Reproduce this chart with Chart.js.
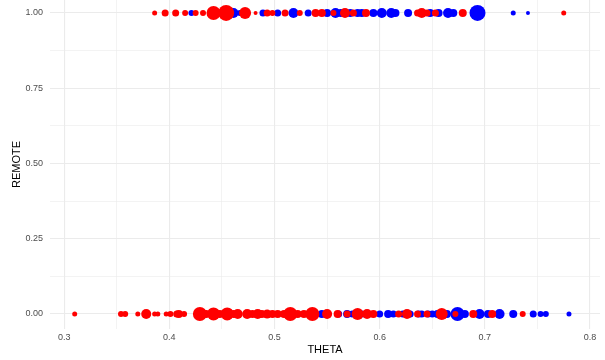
<!DOCTYPE html>
<html>
<head>
<meta charset="utf-8">
<script src="https://cdn.jsdelivr.net/npm/chart.js@4"></script>
<style>
  html, body { margin: 0; padding: 0; background: #fff; }
  #wrap { width: 605px; height: 360px; }
</style>
</head>
<body>
<div id="wrap"><canvas id="chart"></canvas></div>
<script>
// REMOTE = 1 row
const redTopTheta = [0.386, 0.396, 0.406, 0.415, 0.425, 0.432, 0.442, 0.454, 0.472, 0.482, 0.493, 0.498, 0.510, 0.524, 0.539, 0.545, 0.556, 0.567, 0.575, 0.587, 0.636, 0.640, 0.645, 0.653, 0.679, 0.775]
const redTopSize  = [2.5, 3.5, 3.5, 3, 3, 3, 7, 8, 6, 2, 3.5, 3, 3.5, 3, 4, 4, 3, 5, 3.5, 4, 3.5, 5, 3.5, 3.5, 4, 2.5]
const blueTopTheta = [0.421, 0.461, 0.467, 0.489, 0.503, 0.518, 0.532, 0.550, 0.558, 0.563, 0.572, 0.579, 0.583, 0.594, 0.602, 0.611, 0.615, 0.627, 0.648, 0.656, 0.665, 0.670, 0.693, 0.727, 0.741]
const blueTopSize  = [3, 5, 3, 3.5, 3.5, 5, 3.5, 4, 5, 4, 4, 4, 4, 4, 5, 5, 4, 4, 4, 4, 5, 4, 8, 2.5, 2]

// REMOTE = 0 row
const redBottomTheta = [0.310, 0.354, 0.358, 0.370, 0.378, 0.386, 0.389, 0.397, 0.401, 0.407, 0.409, 0.414, 0.429, 0.435, 0.442, 0.448, 0.455, 0.461, 0.465, 0.474, 0.479, 0.484, 0.488, 0.493, 0.498, 0.503, 0.509, 0.515, 0.522, 0.528, 0.536, 0.550, 0.560, 0.569, 0.579, 0.588, 0.594, 0.618, 0.626, 0.636, 0.645, 0.659, 0.672, 0.689, 0.707, 0.736]
const redBottomSize  = [2.5, 3, 3, 2.5, 5, 2.5, 2.5, 2.5, 3, 3.5, 4, 3, 7, 4, 6.5, 4, 6.5, 4, 5, 5, 4, 5, 4, 4.5, 4, 4, 4, 7, 4, 4, 7, 5, 4, 3.5, 6, 5, 4, 3.5, 5, 3.5, 3.5, 6, 3, 4, 4, 3]
const blueBottomTheta = [0.545, 0.561, 0.569, 0.574, 0.583, 0.600, 0.608, 0.613, 0.622, 0.629, 0.637, 0.640, 0.646, 0.650, 0.655, 0.664, 0.674, 0.681, 0.695, 0.703, 0.714, 0.727, 0.746, 0.753, 0.758, 0.780]
const blueBottomSize  = [4, 3.5, 4, 3.5, 3.5, 3.5, 4, 3.5, 3.5, 3.5, 3.5, 3.5, 3.5, 3.5, 4, 4, 7, 4, 5, 4, 5, 4, 3.5, 3, 3, 2.5]

const xTicks = [0.3, 0.4, 0.5, 0.6, 0.7, 0.8]
const yTicks = [0, 0.25, 0.5, 0.75, 1]

function points(thetas, sizes, remote) {
    return thetas.map((t, i) => ({ x: t, y: remote, r: sizes[i] }))
}

const redData = points(redTopTheta, redTopSize, 1).concat(points(redBottomTheta, redBottomSize, 0))
const blueData = points(blueTopTheta, blueTopSize, 1).concat(points(blueBottomTheta, blueBottomSize, 0))

const isMajor = (v, list) => list.some(t => Math.abs(t - v) < 1e-6)

const ctx = document.getElementById('chart')
new Chart(ctx, {
    type: 'bubble',
    data: {
        datasets: [
            { label: 'red', data: redData, backgroundColor: '#ff0000', borderWidth: 0, hoverRadius: 0, clip: false },
            { label: 'blue', data: blueData, backgroundColor: '#0000ff', borderWidth: 0, hoverRadius: 0, clip: false }
        ]
    },
    options: {
        responsive: true,
        maintainAspectRatio: false,
        animation: false,
        layout: { autoPadding: false, padding: { left: 10, right: 5, top: 0, bottom: 0 } },
        plugins: {
            legend: { display: false },
            tooltip: { enabled: false }
        },
        scales: {
            x: {
                type: 'linear',
                min: 0.2865,
                max: 0.8095,
                border: { display: false },
                grid: {
                    color: '#ebebeb',
                    lineWidth: c => isMajor(c.tick.value, xTicks) ? 1.1 : 0.6,
                    drawTicks: false
                },
                ticks: {
                    stepSize: 0.05,
                    includeBounds: false,
                    autoSkip: false,
                    maxRotation: 0,
                    padding: 3,
                    color: '#4d4d4d',
                    font: { family: 'Liberation Sans', size: 9 },
                    callback: v => isMajor(v, xTicks) ? (Math.round(v * 10) / 10).toString() : ''
                },
                title: {
                    display: true,
                    text: 'THETA',
                    color: '#000',
                    padding: { top: 1, bottom: 3 },
                    font: { family: 'Liberation Sans', size: 11 }
                },
                afterFit: axis => {
                    axis.height = 31
                    axis.paddingLeft = 0
                    axis.paddingRight = 0
                }
            },
            y: {
                type: 'linear',
                min: -0.05,
                max: 1.043,
                border: { display: false },
                grid: {
                    color: '#ebebeb',
                    lineWidth: c => isMajor(c.tick.value, yTicks) ? 1.1 : 0.6,
                    drawTicks: false
                },
                ticks: {
                    stepSize: 0.125,
                    includeBounds: false,
                    autoSkip: false,
                    padding: 7,
                    color: '#4d4d4d',
                    font: { family: 'Liberation Sans', size: 9 },
                    callback: v => isMajor(v, yTicks) ? v.toFixed(2) : ''
                },
                title: {
                    display: true,
                    text: 'REMOTE',
                    color: '#000',
                    padding: { top: 0, bottom: 2 },
                    font: { family: 'Liberation Sans', size: 11 }
                },
                afterFit: axis => {
                    axis.width = 40
                    axis.paddingTop = 0
                    axis.paddingBottom = 0
                }
            }
        }
    }
})
</script>
</body>
</html>
